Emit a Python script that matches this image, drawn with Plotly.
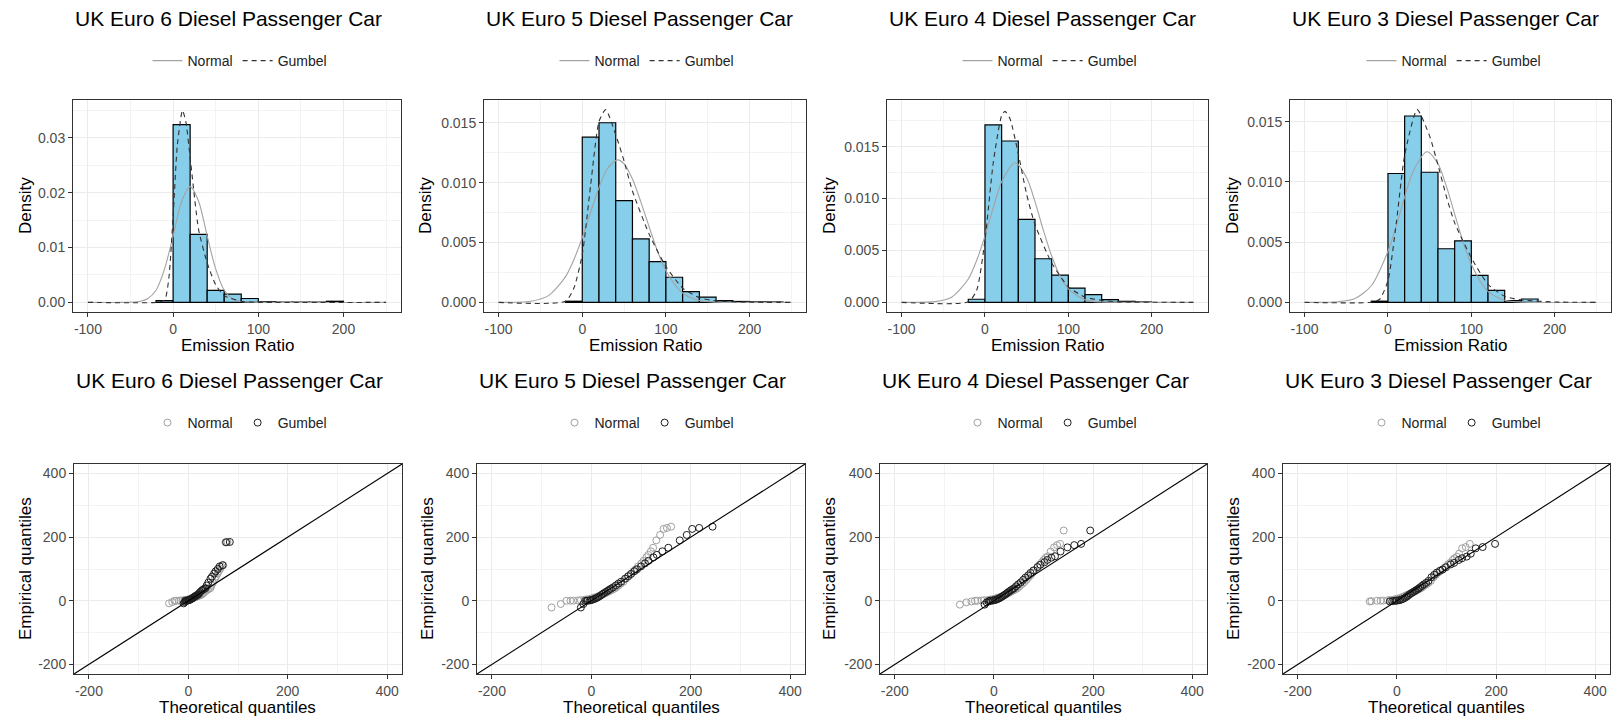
import plotly.graph_objects as go

W, H = 1615, 723
FONT = "Liberation Sans, Arial, sans-serif"

titles = ["UK Euro 6 Diesel Passenger Car", "UK Euro 5 Diesel Passenger Car",
          "UK Euro 4 Diesel Passenger Car", "UK Euro 3 Diesel Passenger Car"]

# ---------------- histogram data (bin mid-points, density) ----------------
e6_bin_mid = [-10, 10, 30, 50, 70, 90, 110, 130, 150, 170, 190]
e6_density = [0.0003, 0.0324, 0.0124, 0.0022, 0.0015, 0.0007, 0.0001, 0.00004, 0.00004, 0.00004, 0.0002]
e5_bin_mid = [-10, 10, 30, 50, 70, 90, 110, 130, 150, 170, 190, 210, 230]
e5_density = [0.0001, 0.0138, 0.0150, 0.0085, 0.0053, 0.0034, 0.0021, 0.0009, 0.00045, 0.00015, 0.00008, 0.00005, 0.00004]
e4_bin_mid = [-10, 10, 30, 50, 70, 90, 110, 130, 150, 170, 190]
e4_density = [0.0003, 0.0171, 0.01555, 0.0080, 0.0042, 0.00263, 0.00138, 0.00074, 0.00026, 0.0001, 0.00004]
e3_bin_mid = [-10, 10, 30, 50, 70, 90, 110, 130, 150, 170]
e3_density = [0.0001, 0.0107, 0.01547, 0.0108, 0.00445, 0.00511, 0.00224, 0.0010, 0.00015, 0.00028]

# ---------------- fitted density curves ----------------
e6_norm_x = [-100, -60, -40, -30, -20, -10, 0, 10, 20, 30, 40, 50, 60, 70, 80, 100, 250]
e6_norm_y = [0, 0, 0.00014, 0.00066, 0.0022, 0.0061, 0.0121, 0.0184, 0.0211, 0.0184, 0.0121, 0.0061, 0.0022, 0.00066, 0.00014, 0, 0]
e6_gum_x = [-100, -20, -10, -5, 0, 5, 11, 15, 20, 30, 40, 50, 60, 80, 100, 250]
e6_gum_y = [0, 0, 0.0004, 0.0044, 0.0156, 0.0287, 0.0350, 0.0329, 0.0264, 0.0132, 0.0072, 0.0032, 0.0012, 0.0002, 0, 0]

e5_norm_x = [-100, -60, -40, -20, -10, 0, 10, 20, 30, 42, 50, 60, 70, 80, 90, 100, 120, 140, 160, 200, 250]
e5_norm_y = [0, 0.00012, 0.00059, 0.00215, 0.00358, 0.0054, 0.00754, 0.0096, 0.01116, 0.0119, 0.01157, 0.0103,
             0.0084, 0.0063, 0.00427, 0.00265, 0.00079, 0.00016, 0.00002, 0, 0]
e5_gum_x = [-100, -20, -10, 0, 10, 20, 28, 40, 50, 60, 80, 100, 120, 140, 160, 200, 250]
e5_gum_y = [0, 0.0001, 0.0012, 0.0040, 0.0098, 0.0151, 0.0161, 0.0140, 0.0118, 0.0093, 0.0057, 0.0030, 0.0012,
            0.0004, 0.00013, 0.00002, 0]

e4_norm_x = [-100, -60, -40, -20, -10, 0, 10, 20, 36, 50, 60, 70, 80, 90, 100, 120, 140, 200, 250]
e4_norm_y = [0, 0.00007, 0.0005, 0.00225, 0.00403, 0.0064, 0.00915, 0.01163, 0.01346, 0.0120, 0.0097, 0.00696,
             0.00447, 0.00255, 0.0013, 0.00024, 0.00003, 0, 0]
e4_gum_x = [-100, -20, -10, 0, 10, 20, 24, 30, 40, 50, 60, 80, 100, 120, 140, 160, 250]
e4_gum_y = [0, 0.00005, 0.00115, 0.0060, 0.0135, 0.0180, 0.0184, 0.0177, 0.0143, 0.0104, 0.0075, 0.0038, 0.0015,
            0.0005, 0.0002, 0.00005, 0]

e3_norm_x = [-100, -60, -40, -20, 0, 10, 20, 30, 47, 60, 70, 80, 90, 100, 120, 140, 160, 250]
e3_norm_y = [0, 0.00005, 0.0003, 0.00138, 0.00424, 0.00638, 0.00875, 0.01085, 0.01251, 0.0115, 0.00965, 0.00733,
             0.00504, 0.00315, 0.00091, 0.00018, 0.00002, 0]
e3_gum_x = [-100, -20, -10, 0, 10, 20, 35, 50, 60, 70, 80, 100, 120, 140, 160, 200, 250]
e3_gum_y = [0, 0.00001, 0.00026, 0.0018, 0.0066, 0.0122, 0.0160, 0.0138, 0.0114, 0.0088, 0.0066, 0.0037, 0.0015,
            0.0005, 0.0002, 0.00003, 0]

# ---------------- Q-Q data (empirical quantiles vs theoretical) ----------------
e6_qq_emp = [-8, -4, 0, 0.12, 0.43, 0.74, 1.36, 1.98, 2.9, 3.8, 4.8, 6, 7.5, 9.1, 10.6, 12.2, 13.7, 15.2, 16.8,
             18.3, 19.9, 23.7, 27.7, 31.8, 35, 37.4, 39.8, 48.2, 57.3, 69.3, 76, 85.7, 92.9, 100, 108, 112, 184, 185]
e6_qq_norm = [-38.7, -32.3, -27.7, -24.3, -19, -15.7, -11.3, -8, -4.4, -1.4, 1.1, 4, 7.2, 10, 12.7, 15.2, 17.6,
              20, 22.4, 24.8, 27.3, 30, 32.8, 36, 38.9, 41.4, 44.4, 46.7, 49.5, 53.3, 55.7, 59, 61.2, 64.2, 66.7,
              70.4, 74.7, 78.7]
e6_qq_gum = [-9.3, -7.5, -6.1, -5, -3.3, -2.2, -0.5, 0.7, 2.2, 3.5, 4.6, 6, 7.6, 9, 10.5, 11.9, 13.4, 14.9, 16.4,
             18.1, 19.8, 21.8, 24.1, 26.8, 29.3, 31.7, 34.6, 37.1, 40.2, 44.6, 47.7, 52, 55, 59.3, 63.1, 69, 76.2,
             83.5]

e5_qq_emp = [-21, -10, 0.1, 0.3, 0.6, 1.3, 2.0, 3.5, 4.9, 7.1, 9.2, 11.4, 14.3, 17.9, 21.4, 24.7, 28.1, 31.4,
             34.7, 38.1, 42.5, 48.4, 54.2, 60.2, 69.6, 77.2, 84.4, 93.2, 99.1, 108.1, 117.6, 125.6, 136.7, 144.4,
             155.6, 166.7, 190, 207, 226, 229, 233]
e5_qq_norm = [-80, -61.5, -50.1, -42.1, -36.1, -26.8, -21, -13.1, -7.4, -0.9, 4.3, 8.7, 13.8, 19.4, 24.4, 29.1,
              33.5, 37.8, 42, 46.2, 50.5, 54.9, 59.6, 64.6, 70.2, 75.3, 79.7, 84.9, 89.1, 94.1, 100.7, 105, 110.8,
              114.7, 119.9, 124.3, 130.8, 138.4, 145.5, 152.2, 160.6]
e5_qq_gum = [-21, -16, -12, -9, -7, -3, -1, 2, 5, 8, 11, 13.5, 16.5, 20, 23, 26, 29.5, 33, 36, 39.5, 44, 49.5,
             54.5, 60, 68, 74, 80, 87, 92, 100, 108, 115, 125, 132, 143, 155, 178, 192, 203, 217, 244]

e4_qq_emp = [-12, -5, -2, 0, 0.2, 0.8, 1.4, 2.6, 3.8, 5.5, 7.3, 9.1, 11.4, 14.4, 17.3, 20.3, 23.5, 26.7, 29.9,
             33.2, 36.4, 39.6, 45.5, 51.8, 58, 65.7, 72.9, 80, 87.7, 95.4, 106, 113.3, 121.4, 128.6, 135.7, 140,
             155, 168, 175, 179, 221]
e4_qq_norm = [-68.8, -55.5, -45.4, -38.3, -33, -24.8, -19.7, -12.7, -7.7, -1.9, 2.7, 6.6, 11.1, 16, 20.5, 24.6,
              28.5, 32.3, 36, 39.7, 43.5, 47.4, 51.5, 56, 60.9, 65.4, 69.3, 73.9, 77.6, 82, 87.8, 91.7, 96.8,
              100.2, 104.8, 108.7, 114.5, 121.2, 127.5, 133.4, 140.8]
e4_qq_gum = [-18.8, -14.7, -11.2, -8.6, -6.5, -3.3, -1.1, 2.1, 4.4, 7.3, 9.7, 11.9, 14.5, 17.5, 20.3, 23, 25.7,
             28.5, 31.3, 34.3, 37.4, 40.8, 44.6, 48.9, 54, 58.9, 63.4, 69, 73.7, 79.7, 88, 93.8, 102, 107.8, 116,
             123.2, 134.4, 148.3, 162.1, 176, 194.3]

e3_qq_emp = [-2, -1, 0.1, 0.4, 0.7, 1.7, 2.6, 4.5, 6.4, 9.2, 12, 14.8, 18.5, 22.2, 25.5, 28.7, 31.9, 35.1, 38.4,
             42.4, 47.1, 51.8, 56.4, 62.7, 74.1, 81.8, 88.6, 94.5, 98.4, 105.5, 114.5, 119.1, 128.4, 133.7, 138.9,
             148, 165, 169, 179]
e3_qq_norm = [-55, -51.6, -40.7, -33.1, -27.3, -18.5, -13, -5.5, -0.1, 6.1, 11.1, 15.3, 20.1, 25.5, 30.3, 34.7,
              38.9, 43, 47, 51, 55.1, 59.3, 63.7, 68.5, 73.9, 78.7, 82.9, 87.9, 91.8, 96.6, 102.9, 107, 112.5,
              116.2, 121.2, 125.4, 131.6, 138.8, 147]
e3_qq_gum = [-14.3, -9.5, -5.5, -2.5, -0.1, 3.6, 6.1, 9.8, 12.5, 15.8, 18.6, 21.1, 24.1, 27.5, 30.7, 33.9, 37,
             40.2, 43.4, 46.8, 50.5, 54.4, 58.7, 63.7, 69.5, 75.2, 80.3, 86.8, 92.1, 99, 108.6, 115.3, 124.7,
             131.4, 140.8, 149, 159, 173, 198]

# ---------------- axes / ticks ----------------
hist_x_ticks = [-100, 0, 100, 200]
hist_x_minor = [-50, 50, 150, 250]
hist_x_range = [-117.5, 267.5]
hist_y_ticks = [[0, 0.01, 0.02, 0.03], [0, 0.005, 0.010, 0.015], [0, 0.005, 0.010, 0.015], [0, 0.005, 0.010, 0.015]]
hist_y_labels = [["0.00", "0.01", "0.02", "0.03"], ["0.000", "0.005", "0.010", "0.015"],
                 ["0.000", "0.005", "0.010", "0.015"], ["0.000", "0.005", "0.010", "0.015"]]
hist_y_minor = [[0.005, 0.015, 0.025, 0.035], [0.0025, 0.0075, 0.0125], [0.0025, 0.0075, 0.0125, 0.0175],
                [0.0025, 0.0075, 0.0125]]
hist_y_range = [[-0.00176, 0.0369], [-0.0008, 0.0169], [-0.00093, 0.0195], [-0.0008, 0.0168]]
qq_ticks = [-200, 0, 200, 400]
qq_minor = [-100, 100, 300]
qq_range = [-230, 430]

hist_data = [(e6_bin_mid, e6_density, e6_norm_x, e6_norm_y, e6_gum_x, e6_gum_y),
             (e5_bin_mid, e5_density, e5_norm_x, e5_norm_y, e5_gum_x, e5_gum_y),
             (e4_bin_mid, e4_density, e4_norm_x, e4_norm_y, e4_gum_x, e4_gum_y),
             (e3_bin_mid, e3_density, e3_norm_x, e3_norm_y, e3_gum_x, e3_gum_y)]
qq_data = [(e6_qq_emp, e6_qq_norm, e6_qq_gum), (e5_qq_emp, e5_qq_norm, e5_qq_gum),
           (e4_qq_emp, e4_qq_norm, e4_qq_gum), (e3_qq_emp, e3_qq_norm, e3_qq_gum)]

# ---------------- layout geometry (pixels) ----------------
top_x = [(73, 401), (484, 806), (887, 1208), (1290, 1611)]
bot_x = [(74, 402), (477, 805), (880, 1207), (1283, 1610)]
top_y = (100, 312)
bot_y = (464, 674)
leg_cx = [240, 647, 1050, 1454]
ytitle_x_top = [25, 425, 829, 1232]
ytitle_x_bot = [25, 427, 829, 1233]

NORM_COL = "#a3a3a3"
GUM_COL = "#333333"
PT_NORM = "#a0a0a0"
PT_GUM = "#1e1e1e"
BAR_FILL = "#87CEEB"


def pxx(v):
    return v / W


def pxy(v):
    return 1 - v / H


fig = go.Figure()
layout = dict(width=W, height=H, margin=dict(l=0, r=0, t=0, b=0), autosize=False,
              paper_bgcolor="white", plot_bgcolor="white", font=dict(family=FONT),
              bargap=0, barmode="overlay")
annotations = []


def note(text, x, y, size, xanchor="center", angle=0):
    return dict(text=text, x=pxx(x), y=pxy(y), xref="paper", yref="paper", xanchor=xanchor,
                yanchor="middle", textangle=angle, showarrow=False,
                font=dict(size=size, color="black", family=FONT))


def axis_common():
    return dict(ticks="outside", ticklen=4, tickwidth=1, tickcolor="#333333",
                tickfont=dict(size=14, color="#4d4d4d", family=FONT),
                showgrid=True, gridcolor="#ebebeb", gridwidth=1, zeroline=False,
                showline=True, linecolor="#333333", linewidth=1, mirror=True,
                tickmode="array", fixedrange=True)


def legend_name(k):
    return "legend" if k == 1 else f"legend{k}"


def legend_box(cx, cy):
    return dict(orientation="h", x=pxx(cx), xanchor="center", y=pxy(cy), yanchor="middle",
                font=dict(size=14, color="#222222", family=FONT), bgcolor="rgba(0,0,0,0)",
                itemwidth=30, traceorder="normal")


for i in range(4):
    # ---------- histogram panel ----------
    k = i + 1
    xa, ya = f"x{k}", f"y{k}"
    mids, dens, nx, ny, gx, gy = hist_data[i]
    lg = legend_name(k)
    fig.add_trace(go.Bar(x=mids, y=dens, width=20, marker=dict(color=BAR_FILL, line=dict(color="black", width=1.2)),
                         showlegend=False, xaxis=xa, yaxis=ya, hoverinfo="skip"))
    fig.add_trace(go.Scatter(x=nx, y=ny, mode="lines", name="Normal", legend=lg,
                             line=dict(color=NORM_COL, width=1.1, shape="spline", smoothing=0.8),
                             xaxis=xa, yaxis=ya))
    fig.add_trace(go.Scatter(x=gx, y=gy, mode="lines", name="Gumbel", legend=lg,
                             line=dict(color=GUM_COL, width=1.1, dash="5px,4px", shape="spline", smoothing=0.6),
                             xaxis=xa, yaxis=ya))
    xd = dict(axis_common(), domain=[pxx(top_x[i][0]), pxx(top_x[i][1])], range=hist_x_range,
              tickvals=hist_x_ticks, ticktext=[str(v) for v in hist_x_ticks], anchor=ya,
              minor=dict(tickvals=hist_x_minor, showgrid=True, gridcolor="#ebebeb", gridwidth=0.6, ticks=""))
    yd = dict(axis_common(), domain=[pxy(top_y[1]), pxy(top_y[0])], range=hist_y_range[i],
              tickvals=hist_y_ticks[i], ticktext=hist_y_labels[i], anchor=xa,
              minor=dict(tickvals=hist_y_minor[i], showgrid=True, gridcolor="#ebebeb", gridwidth=0.6, ticks=""))
    layout["xaxis" if k == 1 else f"xaxis{k}"] = xd
    layout["yaxis" if k == 1 else f"yaxis{k}"] = yd
    layout[lg] = legend_box(leg_cx[i], 61)
    cx = (top_x[i][0] + top_x[i][1]) / 2
    annotations += [
        note(titles[i], top_x[i][0], 18, 21, xanchor="left"),
        note("Emission Ratio", cx, 345, 17),
        note("Density", ytitle_x_top[i], (top_y[0] + top_y[1]) / 2, 17, angle=-90),
    ]

    # ---------- Q-Q panel ----------
    k = i + 5
    xa, ya = f"x{k}", f"y{k}"
    emp, qn, qg = qq_data[i]
    lg = legend_name(k)
    fig.add_trace(go.Scatter(x=qn, y=emp, mode="markers", name="Normal", legend=lg,
                             marker=dict(symbol="circle-open", size=7, color=PT_NORM, line=dict(width=1)),
                             xaxis=xa, yaxis=ya))
    fig.add_trace(go.Scatter(x=qg, y=emp, mode="markers", name="Gumbel", legend=lg,
                             marker=dict(symbol="circle-open", size=7, color=PT_GUM, line=dict(width=1)),
                             xaxis=xa, yaxis=ya))
    fig.add_trace(go.Scatter(x=qq_range, y=qq_range, mode="lines", showlegend=False,
                             line=dict(color="black", width=1.1), xaxis=xa, yaxis=ya, hoverinfo="skip"))
    xd = dict(axis_common(), domain=[pxx(bot_x[i][0]), pxx(bot_x[i][1])], range=qq_range,
              tickvals=qq_ticks, ticktext=[str(v) for v in qq_ticks], anchor=ya,
              minor=dict(tickvals=qq_minor, showgrid=True, gridcolor="#ebebeb", gridwidth=0.6, ticks=""))
    yd = dict(axis_common(), domain=[pxy(bot_y[1]), pxy(bot_y[0])], range=qq_range,
              tickvals=qq_ticks, ticktext=[str(v) for v in qq_ticks], anchor=xa,
              minor=dict(tickvals=qq_minor, showgrid=True, gridcolor="#ebebeb", gridwidth=0.6, ticks=""))
    layout[f"xaxis{k}"] = xd
    layout[f"yaxis{k}"] = yd
    layout[lg] = legend_box(leg_cx[i], 423)
    cx = (bot_x[i][0] + bot_x[i][1]) / 2
    annotations += [
        note(titles[i], bot_x[i][0], 380, 21, xanchor="left"),
        note("Theoretical quantiles", cx, 707, 17),
        note("Empirical quantiles", ytitle_x_bot[i], (bot_y[0] + bot_y[1]) / 2, 17, angle=-90),
    ]

layout["annotations"] = annotations
fig.update_layout(**layout)
fig.write_html("out.html", config={"displayModeBar": False, "staticPlot": True},
               post_script="document.body.style.margin='0px';document.body.style.padding='0px';"
                           "document.body.style.overflow='hidden';")
